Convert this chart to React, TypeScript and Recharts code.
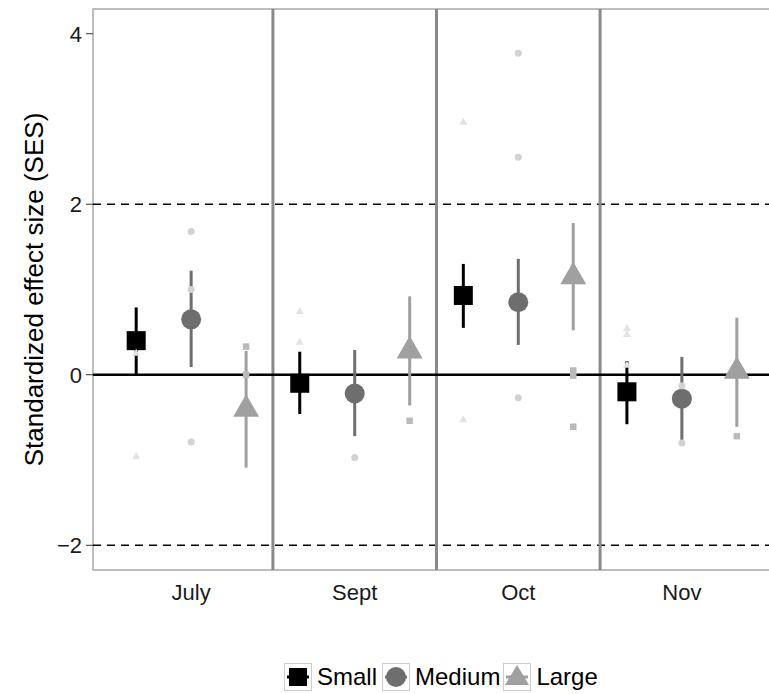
import React from "react";
import {
  ScatterChart,
  Scatter,
  XAxis,
  YAxis,
  ErrorBar,
  ReferenceLine,
  ReferenceArea,
  Label,
} from "recharts";

const months = ["July", "Sept", "Oct", "Nov"];

const smallMean = [0.4, -0.1, 0.93, -0.2];
const smallLow = [0.01, -0.46, 0.55, -0.58];
const smallHigh = [0.79, 0.27, 1.3, 0.16];

const mediumMean = [0.65, -0.22, 0.85, -0.28];
const mediumLow = [0.09, -0.72, 0.35, -0.81];
const mediumHigh = [1.22, 0.29, 1.36, 0.21];

const largeMean = [-0.405, 0.28, 1.15, 0.04];
const largeLow = [-1.09, -0.36, 0.52, -0.61];
const largeHigh = [0.28, 0.92, 1.78, 0.67];

// faint individual points (drawn at the dodge positions)
const faintTriangles = [[0.25, -0.96], [0.74, 0.38], [2.96, -0.53], [0.54, 0.47, 0.11]];
const faintCircles = [[1.68, 1.0, -0.79], [-0.97], [3.77, 2.55, -0.27], [-0.13, -0.8]];
const faintSquares = [[0.33, 0.0], [-0.54], [0.05, -0.01, -0.61], [-0.72]];

const yTicks = [-2, 0, 2, 4];
const xTicks = [1, 2, 3, 4];

const DODGE = 0.336;
const FONT = "'Liberation Sans', Arial, Helvetica, sans-serif";

const C_SMALL = "#000000";
const C_MED = "#6e6e6e";
const C_LARGE = "#a0a0a0";
const C_F_TRI = "#e2e2e2";
const C_F_CIRC = "#d2d2d2";
const C_F_SQ = "#bababa";

function buildMain(mean: number[], low: number[], high: number[], offset: number) {
  return mean.map((m, i) => ({
    x: i + 1 + offset,
    y: m,
    err: [m - low[i], high[i] - m],
  }));
}

function buildFaint(vals: number[][], offset: number) {
  const out: { x: number; y: number }[] = [];
  vals.forEach((arr, i) => arr.forEach((v) => out.push({ x: i + 1 + offset, y: v })));
  return out;
}

const smallData = buildMain(smallMean, smallLow, smallHigh, -DODGE);
const mediumData = buildMain(mediumMean, mediumLow, mediumHigh, 0);
const largeData = buildMain(largeMean, largeLow, largeHigh, DODGE);
const fTriData = buildFaint(faintTriangles, -DODGE);
const fCircData = buildFaint(faintCircles, 0);
const fSqData = buildFaint(faintSquares, DODGE);

const squareShape = (size: number, color: string) => (p: any) => (
  <rect x={p.cx - size / 2} y={p.cy - size / 2} width={size} height={size} fill={color} />
);
const circleShape = (r: number, color: string) => (p: any) => (
  <circle cx={p.cx} cy={p.cy} r={r} fill={color} />
);
const triShape = (w: number, color: string) => (p: any) => {
  const h = (w * Math.sqrt(3)) / 2;
  const pts = `${p.cx},${p.cy - (2 * h) / 3} ${p.cx + w / 2},${p.cy + h / 3} ${p.cx - w / 2},${p.cy + h / 3}`;
  return <polygon points={pts} fill={color} />;
};

const LegendKey = ({ kind, color }: { kind: string; color: string }) => (
  <svg width={28} height={28} style={{ display: "block" }}>
    <rect x={0.5} y={0.5} width={27} height={27} fill="#fff" stroke="#cccccc" />
    <line x1={3} y1={14} x2={25} y2={14} stroke={color} strokeWidth={3} />
    {kind === "square" && <rect x={5} y={5} width={18} height={18} fill={color} />}
    {kind === "circle" && <circle cx={14} cy={14} r={10} fill={color} />}
    {kind === "tri" && <polygon points="14,2 26,22 2,22" fill={color} />}
  </svg>
);

export default function App() {
  return (
    <div
      style={{
        position: "absolute",
        left: 0,
        top: 0,
        width: 769,
        height: 694,
        overflow: "hidden",
        background: "#fff",
        fontFamily: FONT,
      }}
    >
      <ScatterChart width={790} height={630} margin={{ top: 9, right: 10, bottom: 20, left: 0 }}>
        <XAxis
          type="number"
          dataKey="x"
          domain={[0.4, 4.6]}
          ticks={xTicks}
          tickFormatter={(v: number) => months[v - 1]}
          axisLine={false}
          tickLine={false}
          tickMargin={8}
          height={40}
          tick={{ fontSize: 22, fill: "#1a1a1a", fontFamily: FONT }}
          allowDataOverflow
        />
        <YAxis
          type="number"
          dataKey="y"
          domain={[-2.29, 4.29]}
          ticks={yTicks}
          tickFormatter={(v: number) => (v < 0 ? "\u2212" + Math.abs(v) : String(v))}
          axisLine={false}
          tickLine={{ stroke: "#333", strokeWidth: 1 }}
          tickSize={7}
          tickMargin={4}
          width={93}
          tick={{ fontSize: 22, fill: "#1a1a1a", fontFamily: FONT }}
          allowDataOverflow
        >
          <Label
            value="Standardized effect size (SES)"
            angle={-90}
            position="center"
            dx={-13}
            style={{ fontSize: 26, fill: "#000", fontFamily: FONT }}
          />
        </YAxis>
        <ReferenceArea
          x1={0.4}
          x2={4.6}
          y1={-2.29}
          y2={4.29}
          fill="none"
          fillOpacity={0}
          stroke="#a8a8a8"
          strokeWidth={1.5}
          ifOverflow="visible"
        />
        <ReferenceLine y={2} stroke="#000" strokeWidth={1.5} strokeDasharray="8 6" />
        <ReferenceLine y={-2} stroke="#000" strokeWidth={1.5} strokeDasharray="8 6" />
        <ReferenceLine x={1.5} stroke="#8a8a8a" strokeWidth={3} />
        <ReferenceLine x={2.5} stroke="#8a8a8a" strokeWidth={3} />
        <ReferenceLine x={3.5} stroke="#8a8a8a" strokeWidth={3} />
        <ReferenceLine y={0} stroke="#000" strokeWidth={2.5} />

        <Scatter data={smallData} shape={squareShape(19, C_SMALL)} isAnimationActive={false}>
          <ErrorBar dataKey="err" direction="y" width={0} stroke={C_SMALL} strokeWidth={3} />
        </Scatter>
        <Scatter data={mediumData} shape={circleShape(10, C_MED)} isAnimationActive={false}>
          <ErrorBar dataKey="err" direction="y" width={0} stroke={C_MED} strokeWidth={3} />
        </Scatter>
        <Scatter data={largeData} shape={triShape(26, C_LARGE)} isAnimationActive={false}>
          <ErrorBar dataKey="err" direction="y" width={0} stroke={C_LARGE} strokeWidth={3} />
        </Scatter>

        <Scatter data={fTriData} shape={triShape(8, C_F_TRI)} isAnimationActive={false} />
        <Scatter data={fCircData} shape={circleShape(3.5, C_F_CIRC)} isAnimationActive={false} />
        <Scatter data={fSqData} shape={squareShape(6.5, C_F_SQ)} isAnimationActive={false} />
      </ScatterChart>

      <div
        style={{
          position: "absolute",
          left: 284,
          top: 663,
          display: "flex",
          alignItems: "center",
          fontSize: 24,
          color: "#000",
          fontFamily: FONT,
          lineHeight: "28px",
        }}
      >
        <LegendKey kind="square" color={C_SMALL} />
        <span style={{ marginLeft: 5, marginRight: 5 }}>Small</span>
        <LegendKey kind="circle" color={C_MED} />
        <span style={{ marginLeft: 5, marginRight: 3 }}>Medium</span>
        <LegendKey kind="tri" color={C_LARGE} />
        <span style={{ marginLeft: 5 }}>Large</span>
      </div>
    </div>
  );
}
